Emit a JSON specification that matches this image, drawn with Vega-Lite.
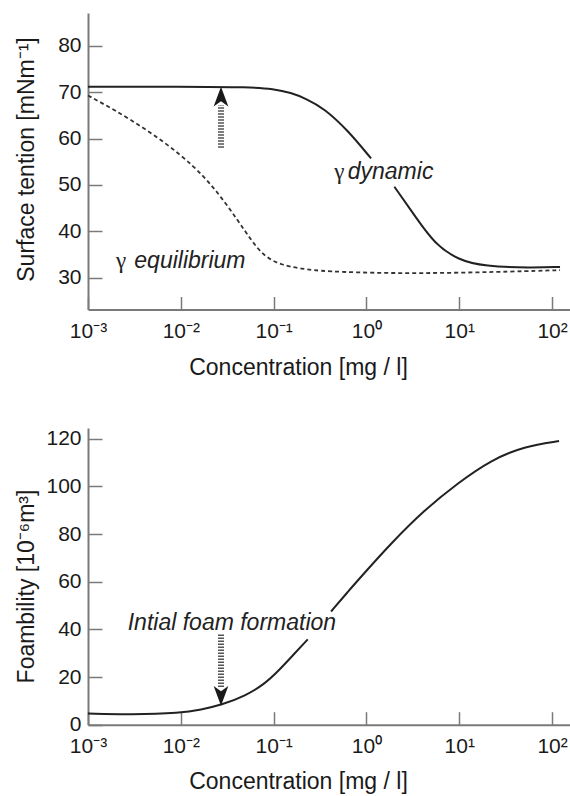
{
  "$schema": "https://vega.github.io/schema/vega-lite/v6.json",
  "background": "white",
  "padding": {"left": 14, "top": 13, "right": 0, "bottom": 0},
  "spacing": 47,
  "datasets": {
    "surface": [
      {"conc": 0.001, "value": 71.2, "curve": "dynamic", "seg": "d1"},
      {"conc": 0.01005, "value": 71.2, "curve": "dynamic", "seg": "d1"},
      {"conc": 0.05702, "value": 71.1, "curve": "dynamic", "seg": "d1"},
      {"conc": 0.09863, "value": 70.7, "curve": "dynamic", "seg": "d1"},
      {"conc": 0.1542, "value": 69.9, "curve": "dynamic", "seg": "d1"},
      {"conc": 0.2234, "value": 68.6, "curve": "dynamic", "seg": "d1"},
      {"conc": 0.3516, "value": 66.5, "curve": "dynamic", "seg": "d1"},
      {"conc": 0.6281, "value": 61.8, "curve": "dynamic", "seg": "d1"},
      {"conc": 1.122, "value": 55.7, "curve": "dynamic", "seg": "d1"},
      {"conc": 2.0, "value": 49.6, "curve": "dynamic", "seg": "d2"},
      {"conc": 3.573, "value": 42.4, "curve": "dynamic", "seg": "d2"},
      {"conc": 5.395, "value": 37.4, "curve": "dynamic", "seg": "d2"},
      {"conc": 9.638, "value": 33.8, "curve": "dynamic", "seg": "d2"},
      {"conc": 18.66, "value": 32.4, "curve": "dynamic", "seg": "d2"},
      {"conc": 59.43, "value": 32.1, "curve": "dynamic", "seg": "d2"},
      {"conc": 121.9, "value": 32.3, "curve": "dynamic", "seg": "d2"},
      {"conc": 0.001, "value": 69.3, "curve": "equilibrium", "seg": "e1"},
      {"conc": 0.001919, "value": 66.2, "curve": "equilibrium", "seg": "e1"},
      {"conc": 0.004395, "value": 61.8, "curve": "equilibrium", "seg": "e1"},
      {"conc": 0.01005, "value": 56.5, "curve": "equilibrium", "seg": "e1"},
      {"conc": 0.01791, "value": 51.8, "curve": "equilibrium", "seg": "e1"},
      {"conc": 0.0271, "value": 47.4, "curve": "equilibrium", "seg": "e1"},
      {"conc": 0.04102, "value": 42.4, "curve": "equilibrium", "seg": "e1"},
      {"conc": 0.05702, "value": 38.1, "curve": "equilibrium", "seg": "e1"},
      {"conc": 0.07943, "value": 34.5, "curve": "equilibrium", "seg": "e1"},
      {"conc": 0.1202, "value": 32.7, "curve": "equilibrium", "seg": "e1"},
      {"conc": 0.1972, "value": 31.9, "curve": "equilibrium", "seg": "e1"},
      {"conc": 0.3516, "value": 31.3, "curve": "equilibrium", "seg": "e1"},
      {"conc": 1.841, "value": 30.9, "curve": "equilibrium", "seg": "e1"},
      {"conc": 9.638, "value": 31.0, "curve": "equilibrium", "seg": "e1"},
      {"conc": 59.43, "value": 31.4, "curve": "equilibrium", "seg": "e1"},
      {"conc": 121.9, "value": 31.6, "curve": "equilibrium", "seg": "e1"}
    ],
    "foam": [
      {"conc": 0.001, "value": 4.65, "seg": "f1"},
      {"conc": 0.002904, "value": 4.2, "seg": "f1"},
      {"conc": 0.01005, "value": 4.9, "seg": "f1"},
      {"conc": 0.01652, "value": 6.3, "seg": "f1"},
      {"conc": 0.0271, "value": 8.2, "seg": "f1"},
      {"conc": 0.05012, "value": 12.2, "seg": "f1"},
      {"conc": 0.07943, "value": 17.0, "seg": "f1"},
      {"conc": 0.1122, "value": 22.5, "seg": "f1"},
      {"conc": 0.1585, "value": 28.8, "seg": "f1"},
      {"conc": 0.2333, "value": 35.8, "seg": "f1"},
      {"conc": 0.4159, "value": 47.5, "seg": "f2"},
      {"conc": 0.631, "value": 55.8, "seg": "f2"},
      {"conc": 0.9484, "value": 63.6, "seg": "f2"},
      {"conc": 1.841, "value": 76.1, "seg": "f2"},
      {"conc": 4.207, "value": 90.1, "seg": "f2"},
      {"conc": 9.638, "value": 101.4, "seg": "f2"},
      {"conc": 22.03, "value": 111.1, "seg": "f2"},
      {"conc": 50.35, "value": 116.8, "seg": "f2"},
      {"conc": 118.9, "value": 119.0, "seg": "f2"}
    ],
    "shaftTop": [{"conc": 0.0271, "value": 58.0, "value2": 67.2}],
    "headTop": [{"conc": 0.0271, "value": 71.2}],
    "shaftBottom": [{"conc": 0.0271, "value": 37.8, "value2": 15.8}],
    "headBottom": [{"conc": 0.0271, "value": 7.9}],
    "notesTop": [
      {"conc": 0.4508, "value": 51.2, "text": "γ", "kind": "sym"},
      {"conc": 0.6288, "value": 51.2, "text": "dynamic", "kind": "word"},
      {"conc": 0.002004, "value": 32.0, "text": "γ", "kind": "sym"},
      {"conc": 0.003155, "value": 32.0, "text": "equilibrium", "kind": "word"}
    ],
    "notesBottom": [
      {"conc": 0.002679, "value": 39.6, "text": "Intial foam formation", "kind": "word"}
    ]
  },
  "vconcat": [
    {
      "width": 483,
      "height": 296.5,
      "encoding": {
        "x": {
          "field": "conc", "type": "quantitative",
          "scale": {"type": "log", "domain": [0.001, 160], "nice": false},
          "axis": {
            "values": [0.001, 0.01, 0.1, 1, 10, 100],
            "labelExpr": "datum.value < 0.005 ? '10⁻³' : datum.value < 0.05 ? '10⁻²' : datum.value < 0.5 ? '10⁻¹' : datum.value < 5 ? '10⁰' : datum.value < 50 ? '10¹' : '10²'",
            "tickSize": -13, "labelPadding": 24, "labelFlush": false,
            "title": "Concentration [mg / l]",
            "titleX": 210, "titleY": 65, "titleAlign": "center", "titleBaseline": "alphabetic"
          }
        },
        "y": {
          "field": "value", "type": "quantitative",
          "scale": {"domain": [23.1, 87.1], "zero": false, "nice": false},
          "axis": {
            "values": [30, 40, 50, 60, 70, 80],
            "tickSize": -14, "labelPadding": 21, "labelFlush": false,
            "title": "Surface tention [mNm⁻¹]",
            "titleX": -55, "titleY": 146, "titleAlign": "center", "titleBaseline": "alphabetic", "titleAngle": 270
          }
        }
      },
      "layer": [
        {
          "data": {"name": "surface"},
          "transform": [{"filter": "datum.curve === 'dynamic'"}],
          "mark": {"type": "line", "color": "#222222", "strokeWidth": 2, "interpolate": "basis"},
          "encoding": {"detail": {"field": "seg"}}
        },
        {
          "data": {"name": "surface"},
          "transform": [{"filter": "datum.curve === 'equilibrium'"}],
          "mark": {"type": "line", "color": "#333333", "strokeWidth": 1.8, "strokeDash": [4, 3], "interpolate": "basis"},
          "encoding": {"detail": {"field": "seg"}}
        },
        {
          "data": {"name": "shaftTop"},
          "mark": {"type": "rule", "color": "#555555", "strokeWidth": 6, "strokeDash": [1.5, 1.5]},
          "encoding": {"y2": {"field": "value2"}}
        },
        {
          "data": {"name": "headTop"},
          "mark": {"type": "point", "shape": "M0,0L0.7,1.9L0,1.4L-0.7,1.9Z", "size": 440, "filled": true, "opacity": 1, "color": "#1a1a1a", "strokeWidth": 0}
        },
        {
          "data": {"name": "notesTop"},
          "transform": [{"filter": "datum.kind === 'sym'"}],
          "mark": {"type": "text", "align": "left", "baseline": "alphabetic", "font": "Liberation Serif", "fontSize": 23, "color": "#222222"},
          "encoding": {"text": {"field": "text"}}
        },
        {
          "data": {"name": "notesTop"},
          "transform": [{"filter": "datum.kind === 'word'"}],
          "mark": {"type": "text", "align": "left", "baseline": "alphabetic", "font": "Liberation Sans", "fontStyle": "italic", "fontSize": 23, "color": "#222222"},
          "encoding": {"text": {"field": "text"}}
        }
      ]
    },
    {
      "width": 483,
      "height": 296.7,
      "encoding": {
        "x": {
          "field": "conc", "type": "quantitative",
          "scale": {"type": "log", "domain": [0.001, 160], "nice": false},
          "axis": {
            "values": [0.001, 0.01, 0.1, 1, 10, 100],
            "labelExpr": "datum.value < 0.005 ? '10⁻³' : datum.value < 0.05 ? '10⁻²' : datum.value < 0.5 ? '10⁻¹' : datum.value < 5 ? '10⁰' : datum.value < 50 ? '10¹' : '10²'",
            "tickSize": -13, "labelPadding": 24, "labelFlush": false,
            "title": "Concentration [mg / l]",
            "titleX": 210, "titleY": 64, "titleAlign": "center", "titleBaseline": "alphabetic"
          }
        },
        "y": {
          "field": "value", "type": "quantitative",
          "scale": {"domain": [0, 124.5], "zero": false, "nice": false},
          "axis": {
            "values": [0, 20, 40, 60, 80, 100, 120],
            "tickSize": -14, "labelPadding": 21, "labelFlush": false,
            "title": "Foambility [10⁻⁶m³]",
            "titleX": -55, "titleY": 158, "titleAlign": "center", "titleBaseline": "alphabetic", "titleAngle": 270
          }
        }
      },
      "layer": [
        {
          "data": {"name": "foam"},
          "mark": {"type": "line", "color": "#222222", "strokeWidth": 2, "interpolate": "basis"},
          "encoding": {"detail": {"field": "seg"}}
        },
        {
          "data": {"name": "shaftBottom"},
          "mark": {"type": "rule", "color": "#555555", "strokeWidth": 6, "strokeDash": [1.5, 1.5]},
          "encoding": {"y2": {"field": "value2"}}
        },
        {
          "data": {"name": "headBottom"},
          "mark": {"type": "point", "shape": "M0,0L0.7,-1.9L0,-1.4L-0.7,-1.9Z", "size": 440, "filled": true, "opacity": 1, "color": "#1a1a1a", "strokeWidth": 0}
        },
        {
          "data": {"name": "notesBottom"},
          "mark": {"type": "text", "align": "left", "baseline": "alphabetic", "font": "Liberation Sans", "fontStyle": "italic", "fontSize": 23, "color": "#222222"},
          "encoding": {"text": {"field": "text"}}
        }
      ]
    }
  ],
  "config": {
    "view": {"stroke": null},
    "axis": {
      "grid": false,
      "domainColor": "#7a7a7a", "domainWidth": 2,
      "tickColor": "#7a7a7a", "tickWidth": 1.5,
      "labelFont": "Liberation Sans", "labelFontSize": 21, "labelColor": "#1a1a1a",
      "titleFont": "Liberation Sans", "titleFontSize": 23, "titleFontWeight": "normal", "titleColor": "#1a1a1a"
    }
  }
}
